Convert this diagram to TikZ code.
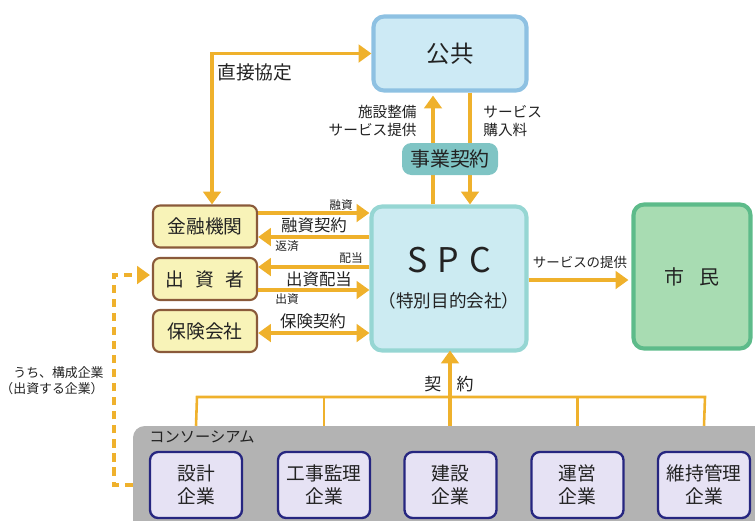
\documentclass[tikz,border=0pt]{standalone}
\usepackage{fontspec}
\setmainfont{Noto Sans CJK JP}
\usetikzlibrary{positioning,arrows.meta,calc}

\definecolor{arrowc}{HTML}{EFB12C}
\definecolor{publine}{HTML}{8EC1E2}
\definecolor{pubfill}{HTML}{CDEAF5}
\definecolor{spcline}{HTML}{96D6D3}
\definecolor{spcfill}{HTML}{CCEBF2}
\definecolor{citline}{HTML}{5DBB8A}
\definecolor{citfill}{HTML}{A8DCB2}
\definecolor{finline}{HTML}{8A5A3A}
\definecolor{finfill}{HTML}{F8F3B8}
\definecolor{deal}{HTML}{7FC4C4}
\definecolor{consgray}{HTML}{B3B3B3}
\definecolor{firmline}{HTML}{262680}
\definecolor{firmfill}{HTML}{E6E2F4}
\definecolor{ink}{HTML}{222222}

\newcommand{\pxl}{0.03cm}
\newcommand{\fsz}[1]{\fontsize{#1}{\dimexpr#1*5/4\relax}\selectfont}

\tikzset{
  tip/.style={-{Triangle[width=15pt,length=11pt]}},
  flow/.style={draw=arrowc, line width=3pt, tip},
  twoway/.style={draw=arrowc, line width=3pt, {Triangle[width=15pt,length=11pt]}-{Triangle[width=15pt,length=11pt]}},
  dashflow/.style={flow, dash pattern=on 7pt off 5pt},
  tree/.style={draw=arrowc, line width=2.2pt},
  finbox/.style={draw=finline, fill=finfill, line width=1.8pt, rounded corners=6pt,
    minimum width=104*\pxl, minimum height=42*\pxl, text=ink, font=\fsz{16pt}},
  firmbox/.style={draw=firmline, fill=firmfill, line width=2pt, rounded corners=7pt,
    minimum width=92*\pxl, minimum height=66*\pxl, align=center, text=ink,
    font=\fsz{16pt}, inner sep=0pt},
  lbl/.style={text=ink, inner sep=1pt},
}

\begin{document}
\begin{tikzpicture}[x=0.03cm,y=-0.03cm]
  \useasboundingbox (0,0) rectangle (755,520);
  \clip (0,0) rectangle (755,520);

  % main parties
  \node[draw=publine, fill=pubfill, line width=3.5pt, rounded corners=9pt,
    minimum width=153*\pxl, minimum height=74*\pxl, text=ink, font=\fsz{20pt}] (kokyo) at (450,53.5) {公共};
  \node[draw=spcline, fill=spcfill, line width=3.5pt, rounded corners=9pt,
    minimum width=155*\pxl, minimum height=144*\pxl, align=center, text=ink, font=\fsz{15pt}] (spc) at (449,278.5)
    {{\fontsize{29pt}{29pt}\selectfont S\hspace{0.3em}P\hspace{0.3em}C}\\[11pt]（特別目的会社）};
  \node[draw=citline, fill=citfill, line width=3.5pt, rounded corners=9pt,
    minimum width=117*\pxl, minimum height=144*\pxl, text=ink, font=\fsz{17pt}] (shimin) at (692,276.5) {市\hspace{0.8em}民};

  % lenders etc.
  \node[finbox] (kin) at (205,226.5) {金融機関};
  \node[finbox] (shusshi) at (205,279) {出\hspace{0.6em}資\hspace{0.6em}者};
  \node[finbox] (hoken) at (205,331) {保険会社};

  % consortium
  \node[fill=consgray, rounded corners=10pt, minimum width=640*\pxl, minimum height=110*\pxl] (cons) at (453,481) {};
  \node[lbl, anchor=west, font=\fsz{13pt}] (conslbl) at (148,437) {コンソーシアム};
  \node[firmbox] (sekkei) at (196,485) {設計\\企業};
  \node[firmbox] (kanri) at (324,485) {工事監理\\企業};
  \node[firmbox] (kensetsu) at (450.5,485) {建設\\企業};
  \node[firmbox] (unei) at (577.5,485) {運営\\企業};
  \node[firmbox] (iji) at (704,485) {維持管理\\企業};

  % arrows
  \draw[twoway] ([xshift=7*\pxl]kin.north) |- (kokyo.west);
  \node[lbl, anchor=west, font=\fsz{16pt}] (kyotei) at (216,72) {直接協定};

  \draw[flow] (433,0 |- spc.north) -- ([yshift=-3*\pxl]433,0 |- kokyo.south);
  \draw[flow] (470,0 |- kokyo.south) -- (470,0 |- spc.north);
  \node[lbl, anchor=east, align=right, font=\fsz{12.5pt}] (seibi) at (418,121) {施設整備\\サービス提供};
  \node[lbl, anchor=west, align=left, font=\fsz{12.5pt}] (konyu) at (482,121) {サービス\\購入料};
  \node[fill=deal, rounded corners=8pt, minimum width=96*\pxl, minimum height=32*\pxl,
    text=ink, font=\fsz{17pt}, inner sep=0pt] (jigyo) at (450,159) {事業契約};

  \draw[flow] (kin.east |- 0,213) -- (spc.west |- 0,213);
  \draw[flow] (spc.west |- 0,237) -- (kin.east |- 0,237);
  \node[lbl, font=\fsz{10pt}] (yushi) at (341,205) {融資};
  \node[lbl, font=\fsz{14pt}] (yushikei) at (314,225) {融資契約};
  \node[lbl, font=\fsz{10pt}] (hensai) at (287,246) {返済};

  \draw[flow] (spc.west |- 0,267) -- (shusshi.east |- 0,267);
  \draw[flow] (shusshi.east |- 0,290) -- (spc.west |- 0,290);
  \node[lbl, font=\fsz{10pt}] (haito) at (351,258) {配当};
  \node[lbl, font=\fsz{14pt}] (shusshihaito) at (319,279) {出資配当};
  \node[lbl, font=\fsz{10pt}] (shusshilbl) at (287,299) {出資};

  \draw[twoway] (hoken.east |- 0,333) -- (spc.west |- 0,333);
  \node[lbl, font=\fsz{14pt}] (hokenkei) at (313,321) {保険契約};

  \draw[flow] (spc.east |- 0,280) -- ([xshift=-3*\pxl]shimin.west |- 0,280);
  \node[lbl, font=\fsz{11.5pt}] (teikyo) at (580,262) {サービスの提供};

  % contract tree
  \coordinate (tl) at (197,397);
  \coordinate (tr) at (705,397);
  \draw[tree] (sekkei.north |- cons.north) -- (tl) -- (tr) -- (iji.north |- cons.north);
  \draw[tree] (kanri.north |- cons.north) -- (kanri.north |- tl);
  \draw[tree] (unei.north |- cons.north) -- (unei.north |- tl);
  \draw[flow] (450,0 |- cons.north) -- ([yshift=2*\pxl]450,0 |- spc.south);
  \node[lbl, font=\fsz{14.5pt}] (keiyaku) at (449,384) {契\hspace{0.9em}約};

  % members who invest
  \coordinate (bend) at (114,275);
  \draw[dashflow] (cons.west |- 0,485) -| (bend) -- ([xshift=-2*\pxl]shusshi.west |- bend);
  \node[lbl, anchor=east, align=right, font=\fsz{11pt}] (uchi) at (105,381) {うち、構成企業\\（出資する企業）};
\end{tikzpicture}
\end{document}
